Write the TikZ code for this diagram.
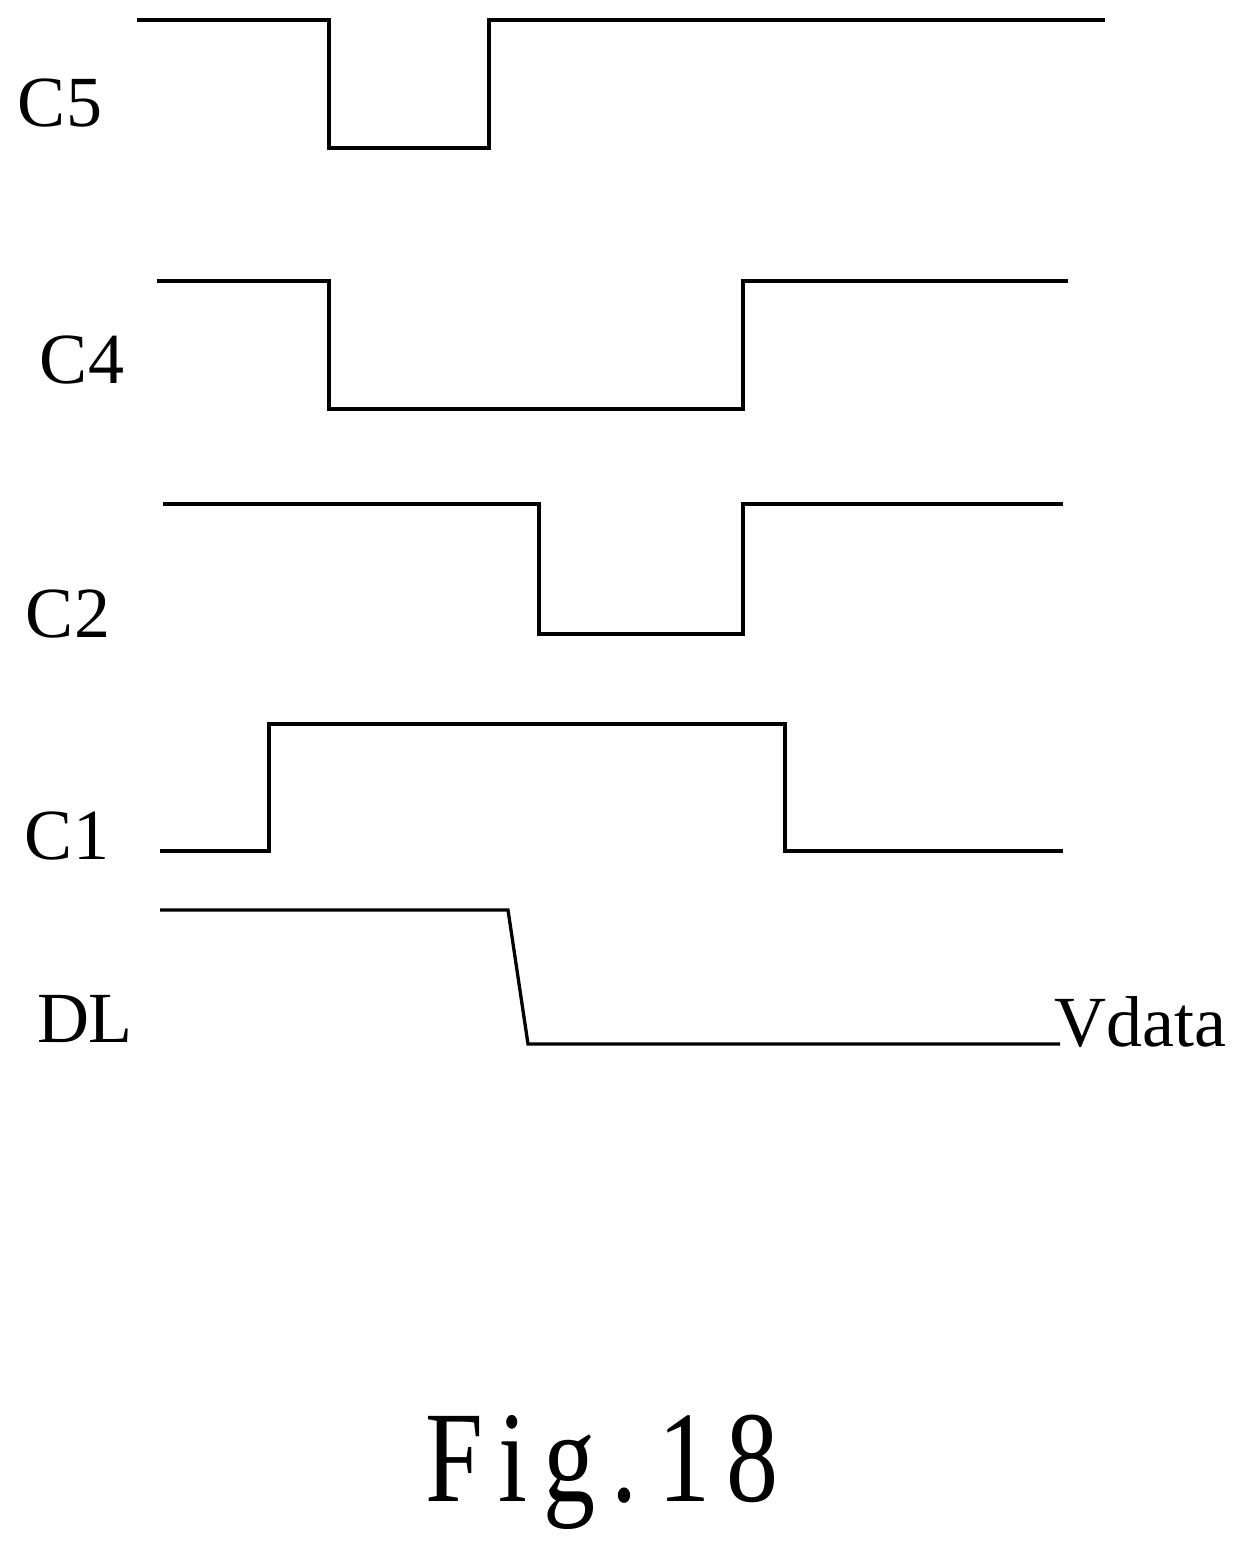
\documentclass[tikz,border=0pt]{standalone}
\usepackage{fontspec}
\setmainfont{Liberation Serif}
\begin{document}
\begin{tikzpicture}[x=1pt,y=-1pt,
  wave/.style={line width=3.3pt,line join=miter},
  lab/.style={font=\fontsize{72}{72}\selectfont,inner sep=0pt}]
\useasboundingbox (0,0) rectangle (1252,1550);
\draw[wave] (137,20)--(329,20)--(329,148)--(489,148)--(489,20)--(1105,20);
\draw[wave] (157,281)--(329,281)--(329,409)--(743,409)--(743,281)--(1068,281);
\draw[wave] (163,504)--(539,504)--(539,634)--(743,634)--(743,504)--(1063,504);
\draw[wave] (160,851)--(269,851)--(269,724)--(785,724)--(785,851)--(1063,851);
\draw[wave] (160,910)--(508,910)--(528,1044)--(1060,1044);
\node[lab] (c5) at (60,103) {C5};
\node[lab] (c4) at (82,360) {C4};
\node[lab] (c2) at (68,614) {C2};
\node[lab] (c1) at (67,836) {C1};
\node[lab] (dl) at (85,1019) {DL};
\node[lab] (vd) at (1140,1022) {Vdata};
\node[inner sep=0pt,font=\fontsize{130}{130}\selectfont] (fig) at (602,1472) {\addfontfeature{FakeStretch=0.8,LetterSpace=12}Fig.\,18};
\end{tikzpicture}
\end{document}
